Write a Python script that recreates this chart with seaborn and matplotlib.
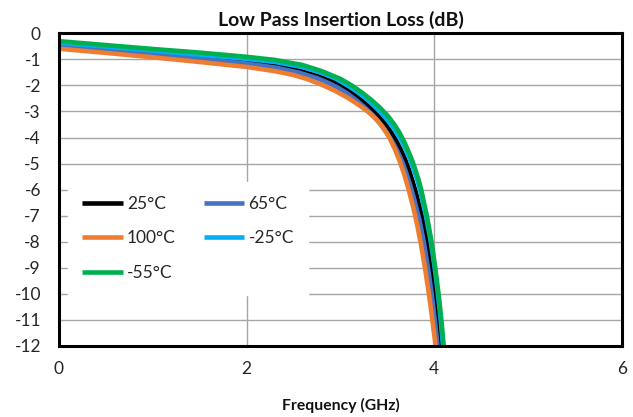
import numpy as np
import pandas as pd
import matplotlib
matplotlib.use("Agg")
import matplotlib.pyplot as plt
import seaborn as sns
from matplotlib.lines import Line2D

# ---- data ----
series_names = ["25°C", "65°C", "100°C", "-25°C", "-55°C"]
colors = ["#000000", "#4472C4", "#ED7D31", "#00B0F0", "#00B050"]

freq_25 = [0, 0.5, 1.0, 1.5, 2.0, 2.3, 2.55, 2.75, 2.9, 3.0, 3.1, 3.2, 3.29, 3.38, 3.46, 3.53, 3.59,
           3.64, 3.69, 3.73, 3.77, 3.81, 3.87, 3.92, 3.96, 4.0, 4.03, 4.06, 4.07]
loss_25 = [-0.42, -0.58, -0.74, -0.92, -1.1, -1.24, -1.42, -1.63, -1.83, -2.0, -2.22, -2.48, -2.76,
           -3.07, -3.4, -3.75, -4.1, -4.45, -4.85, -5.25, -5.7, -6.2, -7.05, -7.95, -8.85, -9.85,
           -10.75, -11.75, -12.1]

freq_65 = [0, 0.5, 1.0, 1.5, 2.0, 2.3, 2.55, 2.75, 2.88, 2.97, 3.07, 3.17, 3.26, 3.35, 3.43, 3.50,
           3.56, 3.61, 3.66, 3.70, 3.74, 3.78, 3.84, 3.89, 3.93, 3.97, 4.0, 4.03, 4.04]
loss_65 = [-0.47, -0.63, -0.8, -0.98, -1.16, -1.31, -1.5, -1.72, -1.92, -2.08, -2.3, -2.57, -2.85,
           -3.16, -3.5, -3.85, -4.2, -4.55, -4.95, -5.35, -5.8, -6.3, -7.15, -8.05, -8.95, -9.95,
           -10.85, -11.85, -12.2]

freq_100 = [0, 0.5, 1.0, 1.5, 2.0, 2.3, 2.5, 2.65, 2.8, 2.95, 3.08, 3.2, 3.3, 3.39, 3.46, 3.52,
            3.58, 3.63, 3.68, 3.73, 3.78, 3.82, 3.86, 3.90, 3.94, 3.97, 4.0, 4.02]
loss_100 = [-0.59, -0.75, -0.92, -1.1, -1.29, -1.45, -1.6, -1.76, -1.97, -2.22, -2.48, -2.76,
            -3.03, -3.33, -3.65, -4.0, -4.45, -4.9, -5.42, -6.05, -6.75, -7.4, -8.15, -9.0,
            -9.95, -10.75, -11.6, -12.2]

freq_m25 = [0, 0.5, 1.0, 1.5, 2.0, 2.3, 2.6, 2.8, 2.95, 3.06, 3.16, 3.26, 3.35, 3.44, 3.52, 3.59,
            3.65, 3.70, 3.74, 3.78, 3.82, 3.85, 3.91, 3.96, 4.0, 4.035, 4.065, 4.09, 4.095]
loss_m25 = [-0.36, -0.51, -0.66, -0.82, -0.98, -1.1, -1.3, -1.52, -1.74, -1.97, -2.2, -2.47,
            -2.76, -3.08, -3.42, -3.77, -4.13, -4.5, -4.85, -5.22, -5.65, -6.05, -7.0, -7.95,
            -8.9, -9.9, -10.9, -11.9, -12.1]

freq_m55 = [0, 0.5, 1.0, 1.5, 2.0, 2.3, 2.6, 2.8, 3.0, 3.12, 3.22, 3.32, 3.41, 3.50, 3.57, 3.63,
            3.68, 3.72, 3.76, 3.79, 3.83, 3.86, 3.92, 3.97, 4.01, 4.045, 4.075, 4.10, 4.105]
loss_m55 = [-0.3, -0.45, -0.6, -0.74, -0.9, -1.02, -1.22, -1.45, -1.75, -2.0, -2.25, -2.53,
            -2.82, -3.15, -3.48, -3.82, -4.17, -4.5, -4.85, -5.15, -5.6, -6.0, -7.0, -8.0, -9.0,
            -10.0, -11.0, -12.0, -12.2]

x_ticks = [0, 2, 4, 6]
y_ticks = list(range(0, -13, -1))

# ---- build long table ----
frames = []
for name, f, v in zip(series_names,
                      [freq_25, freq_65, freq_100, freq_m25, freq_m55],
                      [loss_25, loss_65, loss_100, loss_m25, loss_m55]):
    frames.append(pd.DataFrame({"Frequency": f, "Loss": v, "Series": name}))
df = pd.concat(frames, ignore_index=True)

sns.set_theme(style="white")
plt.rcParams["font.family"] = ["Lato", "DejaVu Sans"]
plt.rcParams["axes.unicode_minus"] = False

fig = plt.figure(figsize=(6.33, 4.17), dpi=100)
ax = fig.add_axes([0.0932, 0.1707, 0.8894, 0.7493])

palette = dict(zip(series_names, colors))
sns.lineplot(data=df, x="Frequency", y="Loss", hue="Series", hue_order=series_names,
             palette=palette, estimator=None, sort=True, linewidth=3.3, ax=ax,
             legend=False)
for ln in ax.get_lines():
    ln.set_solid_capstyle("butt")
    ln.set_solid_joinstyle("round")

ax.set_xlim(0, 6)
ax.set_ylim(-12, 0)
ax.set_xticks(x_ticks)
ax.set_yticks(y_ticks)
ax.set_xticklabels([str(t) for t in x_ticks])
ax.set_yticklabels([str(t) for t in y_ticks])
ax.grid(True, color="#A6A6A6", linewidth=1.0)
ax.set_axisbelow(True)
for s in ax.spines.values():
    s.set_color("black")
    s.set_linewidth(2.2)
ax.tick_params(axis="both", length=0, labelsize=12.5, colors="#262626")
ax.tick_params(axis="x", pad=11)
ax.tick_params(axis="y", pad=13)

ax.set_title("Low Pass Insertion Loss (dB)", fontsize=14, fontweight="bold", pad=5,
             color="#111111")
ax.set_xlabel("Frequency (GHz)", fontsize=11.3, fontweight="bold", labelpad=15,
              color="#111111")
ax.set_ylabel("")

order = ["25°C", "100°C", "-55°C", "65°C", "-25°C"]
handles = [Line2D([0], [0], color=palette[n], linewidth=3.3, solid_capstyle="butt")
           for n in order]
leg = ax.legend(handles, order, ncol=2, loc="upper left", bbox_to_anchor=(0.016, 0.525),
                frameon=True, fontsize=12.5, handlelength=2.36, handletextpad=0.23,
                columnspacing=1.6, labelspacing=1.07, borderpad=0.8, borderaxespad=0)
leg.get_frame().set_facecolor("white")
leg.get_frame().set_edgecolor("white")
leg.get_frame().set_alpha(1.0)
leg.get_frame().set_boxstyle("square", pad=0)

fig.savefig("out.png", dpi=100)
